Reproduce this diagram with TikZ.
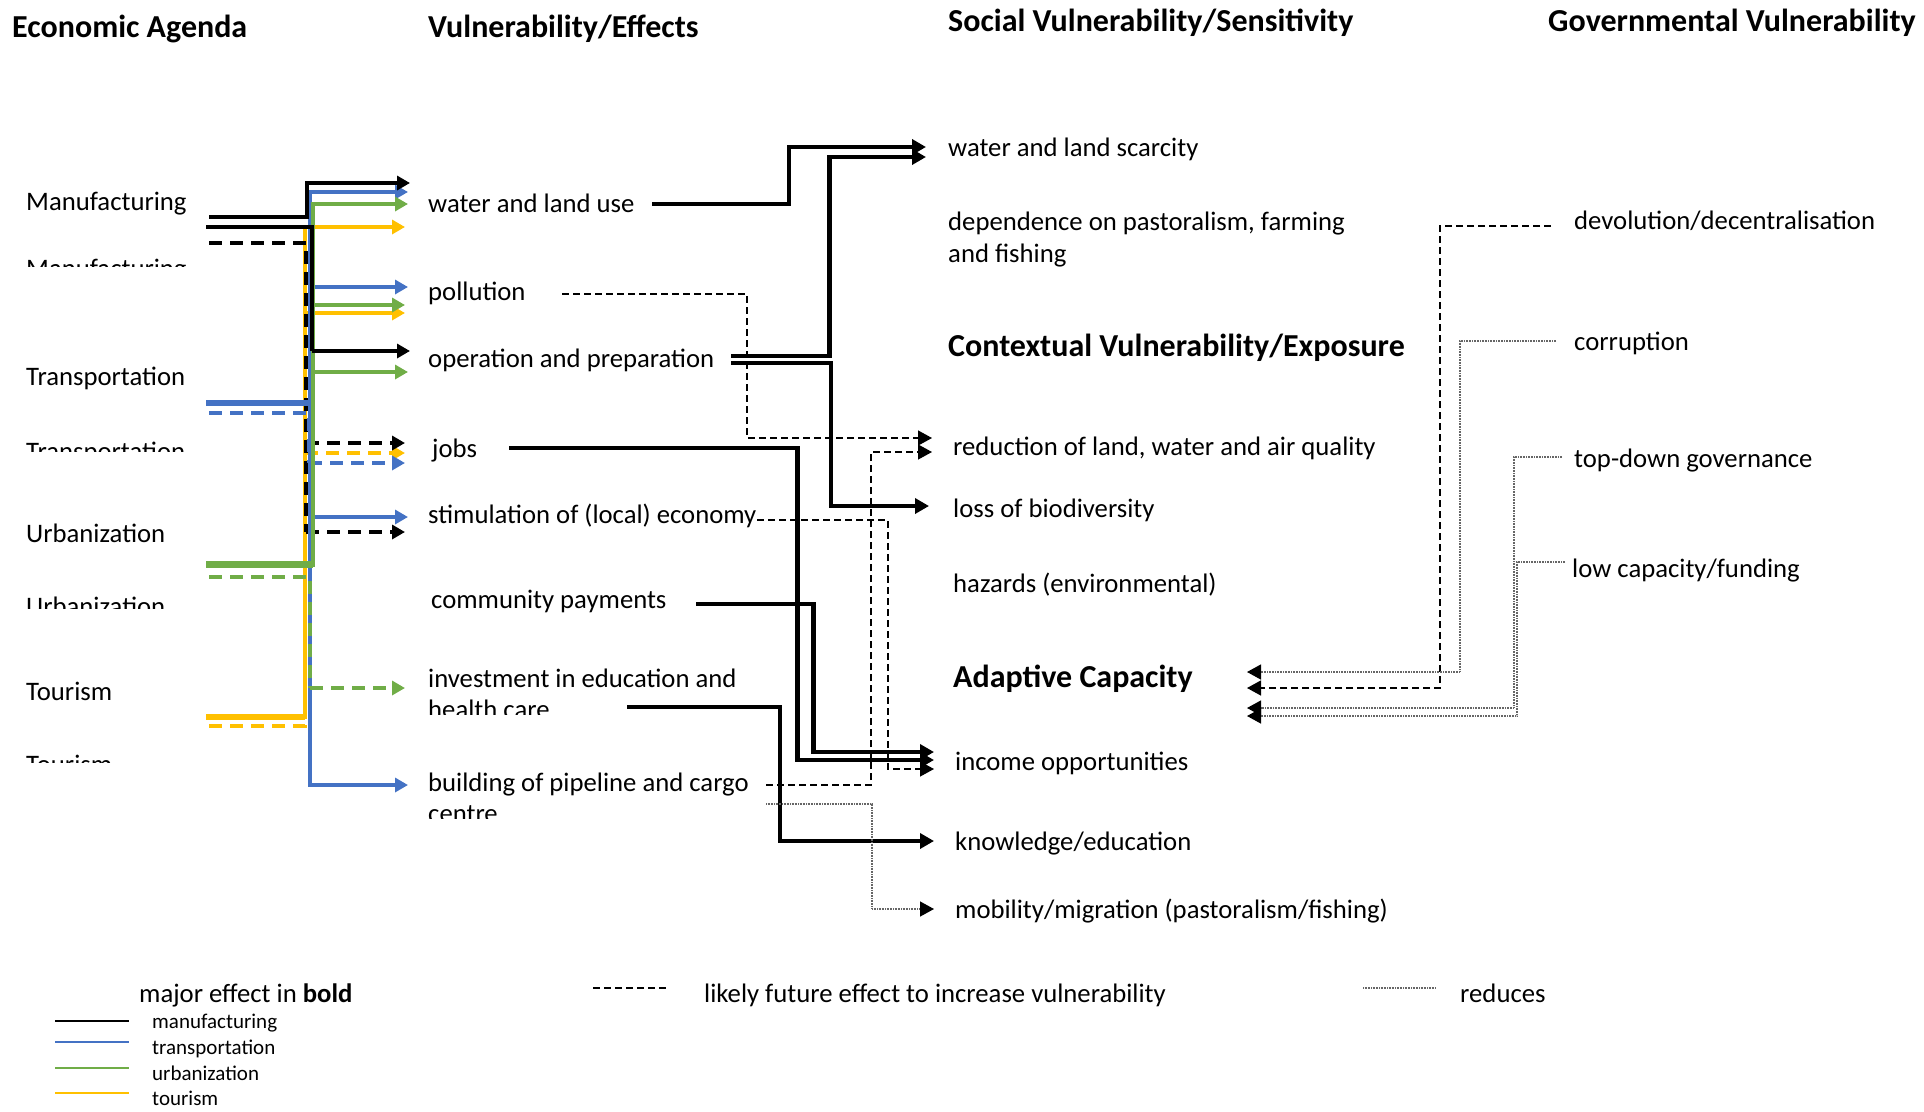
\documentclass[tikz,border=0pt]{standalone}
\usepackage{fontspec}
\setmainfont{Carlito}
\usetikzlibrary{arrows.meta,calc}
\definecolor{cblue}{HTML}{4472C4}
\definecolor{cgreen}{HTML}{70AD47}
\definecolor{cyellow}{HTML}{FFC000}
\begin{document}
\begin{tikzpicture}[x=1pt,y=-1pt,
  lbl/.style={anchor=west, inner sep=0pt, font=\fontsize{26.7}{31.5}\selectfont, text height=21pt, text depth=2pt},
  head/.style={anchor=west, inner sep=0pt, font=\fontsize{32}{38}\selectfont\bfseries, text height=24pt, text depth=2pt},
  small/.style={anchor=west, inner sep=0pt, font=\fontsize{21}{25}\selectfont, text height=14pt, text depth=4pt},
  btip/.style={-{Triangle[length=14pt,width=15pt,color=black]}},
  ctip/.style={-{Triangle[length=13pt,width=14pt]}},
  major/.style={line width=4.2pt, btip},
  future/.style={line width=1.3pt, dash pattern=on 7pt off 4pt, btip},
  reduce/.style={line width=1.4pt, black!60, dash pattern=on 0.8pt off 0.8pt, btip},
  cline/.style={line width=3.6pt},
  cdash/.style={line width=3.8pt, dash pattern=on 13pt off 8pt},
  bar/.style={line width=6pt},
]
\useasboundingbox (0,0) rectangle (1924,1111);

% ---------- column headings ----------
\node[head] (h-econ) at (12,26) {Economic Agenda};
\node[head] (h-eff) at (428,26) {Vulnerability/Effects};
\node[head] (h-soc) at (948,20) {Social Vulnerability/Sensitivity};
\node[head] (h-gov) at (1548,20) {Governmental Vulnerability};

% ---------- economic agenda ----------
\node[lbl] (manu) at (26,201) {Manufacturing};
\node[lbl] (trans) at (26,376) {Transportation};
\node[lbl] (urban) at (26,533) {Urbanization};
\node[lbl] (tour) at (26,691) {Tourism};
\begin{scope}\clip (0,245) rectangle (300,266);
  \node[lbl] (manu-b) at (26,267.5) {Manufacturing};\end{scope}
\begin{scope}\clip (0,430) rectangle (300,451);
  \node[lbl] (trans-b) at (26,450.5) {Transportation};\end{scope}
\begin{scope}\clip (0,585) rectangle (300,608);
  \node[lbl] (urban-b) at (26,605.5) {Urbanization};\end{scope}
\begin{scope}\clip (0,745) rectangle (300,762);
  \node[lbl] (tour-b) at (26,763.5) {Tourism};\end{scope}

% ---------- effects ----------
\node[lbl] (wl) at (428,203) {water and land use};
\node[lbl] (poll) at (428,291) {pollution};
\node[lbl] (op) at (428,358) {operation and preparation};
\node[lbl] (jobs) at (432,448) {jobs};
\node[lbl] (stim) at (428,514) {stimulation of (local) economy};
\node[lbl] (comm) at (431,599) {community payments};
\node[lbl] (inv) at (428,678) {investment in education and};
\begin{scope}\clip (400,690) rectangle (800,714.5);
  \node[lbl] (inv-b) at (428,709) {health care};\end{scope}
\node[lbl] (bld) at (428,782) {building of pipeline and cargo};
\begin{scope}\clip (400,795) rectangle (800,818);
  \node[lbl] (bld-b) at (428,813) {centre};\end{scope}

% ---------- social vulnerability ----------
\node[lbl] (scar) at (948,147) {water and land scarcity};
\node[lbl] (dep) at (948,221) {dependence on pastoralism, farming};
\node[lbl] (dep-b) at (948,253) {and fishing};
\node[head] (h-ctx) at (948,345) {Contextual Vulnerability/Exposure};
\node[lbl] (red) at (953,446) {reduction of land, water and air quality};
\node[lbl] (loss) at (953,508) {loss of biodiversity};
\node[lbl] (haz) at (953,583) {hazards (environmental)};
\node[head] (h-ac) at (953,676) {Adaptive Capacity};
\node[lbl] (inc) at (955,761) {income opportunities};
\node[lbl] (know) at (955,841) {knowledge/education};
\node[lbl] (mob) at (955,909) {mobility/migration (pastoralism/fishing)};

% ---------- governmental vulnerability ----------
\node[lbl] (dev) at (1574,220) {devolution/decentralisation};
\node[lbl] (corr) at (1574,341) {corruption};
\node[lbl] (topd) at (1574,458) {top-down governance};
\node[lbl] (lowc) at (1572,568) {low capacity/funding};

% ---------- sector bundle: bars, trunk and coloured arrows ----------
% tourism (yellow)
\draw[cyellow, bar] (206,717) -- (305,717);
\draw[cyellow, cline] (305,719) -- (305,227);
\draw[cyellow, cline, ctip] (305,227) -- (405,227);
\draw[cyellow, cline, ctip] (305,313) -- (405,313);
\draw[cyellow, cdash] (209,726) -- (305,726) -- (305,453);
\draw[cyellow, cdash, ctip] (305,453) -- (405,453);
% manufacturing (black)
\draw[black, cdash] (209,243) -- (306,243) -- (306,532);
\draw[black, cdash, ctip] (306,443) -- (405,443);
\draw[black, cdash, ctip] (306,532) -- (405,532);
% transportation (blue)
\draw[cblue, bar] (206,403) -- (310,403);
\draw[cblue, cline] (310,192) -- (310,785);
\draw[cblue, cline, ctip] (308.2,192) -- (408,192);
\draw[cblue, cline, ctip] (310,287) -- (408,287);
\draw[cblue, cline, ctip] (310,517) -- (408,517);
\draw[cblue, cline, ctip] (308.2,785) -- (408,785);
\draw[cblue, cdash] (209,413) -- (309,413) -- (309,463);
\draw[cblue, cdash, ctip] (309,463) -- (405,463);
% urbanization (green)
\draw[cgreen, line width=7pt] (206,564) -- (313,564);
\draw[cgreen, cline] (313,567) -- (313,204);
\draw[cgreen, cline, ctip] (311.2,204) -- (408,204);
\draw[cgreen, cline, ctip] (313,305) -- (405,305);
\draw[cgreen, cline, ctip] (313,372) -- (408,372);
\draw[cgreen, cdash] (209,577) -- (310,577) -- (310,688);
\draw[cgreen, cdash, ctip] (310,688) -- (405,688);
% manufacturing solid (black)
\draw[black, line width=4pt] (209,217) -- (307,217) -- (307,183);
\draw[black, line width=4pt, ctip] (305,183) -- (410,183);
\draw[black, line width=4pt] (206,227) -- (312,227) -- (312,351);
\draw[black, line width=4pt, ctip] (312,351) -- (410,351);

% ---------- ports ----------
\coordinate (wl-o) at (652,204);
\coordinate (op-o1) at (731,356);
\coordinate (op-o2) at (731,363);
\coordinate (poll-o) at (562,294);
\coordinate (jobs-o) at (509,448);
\coordinate (stim-o) at (757,520);
\coordinate (comm-o) at (696,604);
\coordinate (inv-o) at (627,707);
\coordinate (bld-o1) at (766,785);
\coordinate (bld-o2) at (766,804);
\coordinate (scar-i1) at (926,147);
\coordinate (scar-i2) at (926,157);
\coordinate (red-i1) at (932,438);
\coordinate (red-i2) at (932,452);
\coordinate (loss-i) at (929,506);
\coordinate (inc-i1) at (934,752);
\coordinate (inc-i2) at (934,760);
\coordinate (inc-i3) at (934,769);
\coordinate (know-i) at (934,841);
\coordinate (mob-i) at (934,909);
\coordinate (dev-o) at (1551,226);
\coordinate (corr-o) at (1556,341);
\coordinate (topd-o) at (1562,457);
\coordinate (lowc-o) at (1565,562);
\coordinate (ac-i1) at (1247,672);
\coordinate (ac-i2) at (1247,688);
\coordinate (ac-i3) at (1247,708);
\coordinate (ac-i4) at (1247,716);

% ---------- effects to social vulnerability ----------
\draw[major] (wl-o) -- ++(137,0) |- (scar-i1);
\draw[major] (op-o1) -- ++(98.5,0) |- (scar-i2);
\draw[major] (op-o2) -- ++(100,0) |- (loss-i);
\draw[major] (jobs-o) -- ++(288.5,0) |- (inc-i2);
\draw[major] (comm-o) -- ++(117.5,0) |- (inc-i1);
\draw[major] (inv-o) -- ++(153,0) |- (know-i);
\draw[future] (poll-o) -- ++(185,0) |- (red-i1);
\draw[future] (bld-o1) -- ++(105,0) |- (red-i2);
\draw[future] (stim-o) -- ++(131,0) |- (inc-i3);
\draw[reduce] (bld-o2) -- ++(106,0) |- (mob-i);

% ---------- governance to adaptive capacity ----------
\draw[future] (dev-o) -- ++(-111,0) |- (ac-i2);
\draw[reduce] (corr-o) -- ++(-96,0) |- (ac-i1);
\draw[reduce] (topd-o) -- ++(-48,0) |- (ac-i3);
\draw[reduce] (lowc-o) -- ++(-48,0) |- (ac-i4);

% ---------- legend ----------
\node[lbl] (lg-major) at (139,993) {major effect in \textbf{bold}};
\draw[black, line width=2pt] (55,1021) -- (129,1021);
\node[small] (lg-manu) at (152,1023) {manufacturing};
\draw[cblue, line width=2pt] (55,1042) -- (129,1042);
\node[small] (lg-trans) at (152,1049) {transportation};
\draw[cgreen, line width=2pt] (55,1068) -- (129,1068);
\node[small] (lg-urban) at (152,1075) {urbanization};
\draw[cyellow, line width=2pt] (55,1093) -- (129,1093);
\node[small] (lg-tour) at (152,1100) {tourism};
\draw[line width=1.3pt, dash pattern=on 7pt off 4pt] (593,988) -- (666,988);
\node[lbl] (lg-future) at (704,993) {likely future effect to increase vulnerability};
\draw[line width=1.4pt, black!60, dash pattern=on 0.8pt off 0.8pt] (1363,988) -- (1436,988);
\node[lbl] (lg-red) at (1460,993) {reduces};
\end{tikzpicture}
\end{document}
